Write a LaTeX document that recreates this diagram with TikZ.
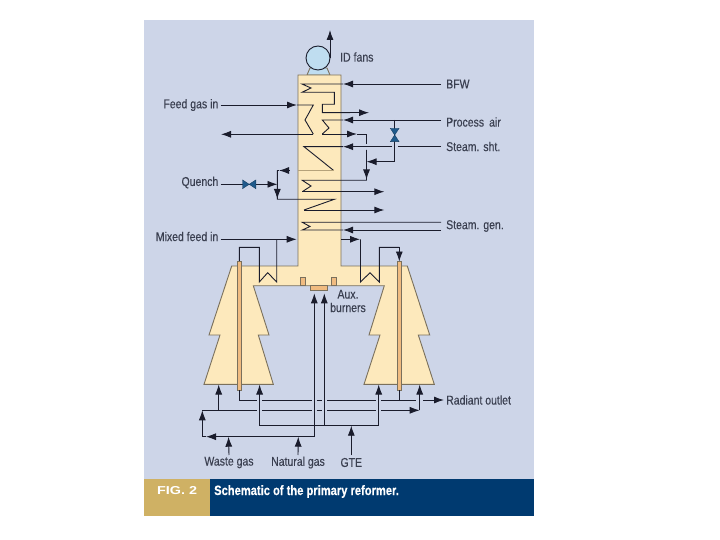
\documentclass[tikz,border=0pt]{standalone}
\usepackage{fontspec}
\setmainfont{Liberation Sans}[FakeStretch=0.82, FakeBold=0.25]
\newfontfamily\figfont{Liberation Sans Bold}[FakeStretch=1.25]
\usetikzlibrary{arrows.meta, positioning, calc}
\definecolor{panel}{HTML}{CDD5E8}
\definecolor{cream}{HTML}{FDE9BC}
\definecolor{tubeor}{HTML}{F0BB80}
\definecolor{navy}{HTML}{003A70}
\definecolor{gold}{HTML}{CFB164}
\definecolor{valveblue}{HTML}{1F5A8C}
\definecolor{fanblue}{HTML}{BFDDF0}
\definecolor{wall}{HTML}{7A705C}
\definecolor{tan2}{HTML}{B5A27A}
\definecolor{pipecol}{HTML}{1A1C2C}
\definecolor{labelcol}{HTML}{3A3F50}

\begin{document}
\begin{tikzpicture}[
    x=1pt, y=-1pt,
    lbl/.style={font=\fontsize{12.8}{13.5}\selectfont, text=labelcol, inner sep=2pt, align=center},
    pipe/.style={draw=pipecol, line width=0.9pt},
    arr/.style={pipe, -{Latex[length=10pt, width=7pt]}},
    shell/.style={draw=wall, line width=0.9pt, fill=cream},
    tube/.style={draw=wall, line width=0.6pt, fill=tubeor},
    valve/.pic={\draw[draw=valveblue!70!black, fill=valveblue, line width=0.4pt] (-6.7,-4.4) -- (6.7,4.4) -- (6.7,-4.4) -- (-6.7,4.4) -- cycle;}
]
\useasboundingbox (0,0) rectangle (720,540);
\fill[panel] (144,20) rectangle (534,479);
\fill[navy] (210,479) rectangle (534,516);
\fill[gold] (144,479) rectangle (210,516);
\node[font=\fontsize{11.5}{13}\selectfont\figfont, text=white, anchor=west, inner sep=0pt] (figno) at (157,491) {FIG. 2};
\node[font=\fontsize{13.6}{13}\selectfont\bfseries, text=white, anchor=west, inner sep=0pt] (caption) at (214,491.5) {Schematic of the primary reformer.};

% fan on top of the stack
\draw[shell, fill=fanblue] (307,75) -- (310,68) -- (327,68) -- (330,75) -- cycle;
\draw[shell, fill=fanblue, draw=pipecol] (318,58) circle (12);
\coordinate (fanout) at (330,58);
\coordinate (fantop) at (330,30);
\draw[arr] (fanout) -- (fantop);

% reformer body
\draw[shell] (298,75) -- (341,75) -- (341,266) -- (407.3,266) -- (429.7,335) -- (418.3,335) -- (434.3,384.3)
    -- (364,384.3) -- (380,335) -- (369,335) -- (384.3,285.7) -- (253.3,285.7) -- (269,335) -- (258.3,335)
    -- (273.3,384.3) -- (204,384.3) -- (220,335) -- (209,335) -- (231.7,266) -- (298,266) -- cycle;

% labels
\node[lbl, anchor=west] (idfans) at (338,57) {ID fans};
\node[lbl, anchor=west] (bfw) at (444,84) {BFW};
\node[lbl, anchor=east] (feed) at (220.5,105) {Feed gas in};
\node[lbl, anchor=west] (air) at (444,122) {Process\, air};
\node[lbl, anchor=west] (sht) at (444,146.5) {Steam. sht.};
\node[lbl, anchor=east] (quench) at (220.5,182.5) {Quench};
\node[lbl, anchor=west] (gen) at (444,226) {Steam. gen.};
\node[lbl, anchor=east] (mixed) at (220.5,236.5) {Mixed feed in};
\node[lbl, anchor=west] (radiant) at (444,400) {Radiant outlet};
\node[lbl] (aux) at (348,301) {Aux.\\burners};
\node[lbl] (waste) at (229,462.5) {Waste gas};
\node[lbl] (natural) at (298,462.5) {Natural gas};
\node[lbl] (gte) at (351.3,462.5) {GTE};

% convection coils, top to bottom
\coordinate (bfwin) at (343,84);
\draw[arr] (441,84) -- (bfwin);
\draw[pipe] (bfwin) -- (302,84) -- (311,88) -- (302,92.3) -- (334.3,92.3) -- (334.3,104.3) -- (322.3,104.3) -- (322.3,112.7) -- (350,112.7);
\draw[arr] (350,112.7) -- (369,112.7);

\coordinate (feedin) at (297,105);
\draw[arr] (feed.east |- feedin) -- (feedin);
\draw[pipe] (feedin) -- (313.3,105) -- (305,120) -- (313.3,134);
\coordinate (feedout) at (221,134.3);
\draw[arr] (313.3,134.3) -- (feedout);

\coordinate (airin) at (343,120);
\coordinate (airtee) at (394.7,120);
\draw[pipe] (441,120) -- (airtee);
\draw[arr] (airtee) -- (airin);
\draw[pipe] (airin) -- (322.3,120) -- (329,128) -- (322.3,134);
\coordinate (airup) at (366.5,134);
\draw[arr] (322.3,134) -- (357,134);
\draw[pipe] (357,134) -- (airup) -- (366.5,144.5);

\coordinate (shtin) at (343,146.7);
\draw[pipe] (441,146.7) -- (397.5,146.7);
\draw[arr] (392,146.7) -- (shtin);
\draw[pipe] (shtin) -- (304,146.7) -- (333.7,170.5);
\draw[tan2, line width=0.7pt] (333.7,170.5) -- (298,170.5);
\draw[arr] (289,170.5) -- (279,170.5);

% bypass with the valve
\coordinate (valvea) at (394.7,135);
\draw[pipe] (airtee) -- (valvea) -- (394.7,161.7) -- (380,161.7);
\draw[arr] (380,161.7) -- (366.5,161.7);
\pic[rotate=90] at (valvea) {valve};
\draw[pipe] (366.5,150) -- (366.5,180.3) -- (302.3,180.3) -- (311,186) -- (302.3,191.7);
\draw[arr] (366.5,160) -- (366.5,179.5);
\draw[arr] (302.3,191.7) -- (384.3,191.7);

% quench
\coordinate (quenchv) at (249.2,184.3);
\coordinate (quenchj) at (277.5,184.3);
\draw[pipe] (quench.east |- quenchv) -- (quenchv);
\draw[arr] (quenchv) -- (quenchj);
\pic at (quenchv) {valve};
\draw[pipe] (277.3,170.5) -- (277.3,199.3) -- (334.3,199.3) -- (304,210);
\draw[arr] (277.3,180) -- (277.3,199);
\draw[pipe] (277.3,170.5) -- (279,170.5);
\draw[arr] (304,210) -- (384.3,210);

% steam generation coil
\draw[pipe] (441,222.3) -- (302.3,222.3) -- (310,226.5) -- (302.3,230) -- (343,230);
\coordinate (genin) at (343,230);
\draw[arr] (441,230) -- (genin);

% mixed feed and the two arms of the furnace
\coordinate (mixedin) at (296.7,239.3);
\draw[arr] (mixed.east |- mixedin) -- (mixedin);
\draw[pipe] (276.7,239.3) -- (276.7,282) -- (267.7,272.7) -- (259.3,282) -- (259.3,247.3) -- (239.3,247.3) -- (239.3,262);
\coordinate (rightout) at (360.5,239.3);
\draw[arr] (341.3,239.3) -- (360,239.3);
\draw[pipe] (rightout) -- (360.5,282) -- (370,272.7) -- (379.3,282) -- (379.3,247.3) -- (399.3,247.3);
\coordinate (righttube) at (399.3,261.5);
\draw[arr] (399.3,247.3) -- (righttube);

% catalyst tubes and burners
\draw[tube] (237.3,261.3) rectangle (241,390);
\draw[tube] (397.3,261.3) rectangle (401.3,390);
\draw[tube] (300.3,277.3) rectangle (305.7,285.7);
\draw[tube] (331.3,277.3) rectangle (336.7,285.7);
\draw[tube] (310.3,285.7) rectangle (327,290.7);

% headers below the furnace
\draw[pipe] (239.3,390) -- (239.3,400) -- (257,400) (262.3,400) -- (312,400) (316.7,400) -- (322,400) (327,400) -- (376,400) (381.3,400) -- (416,400);
\draw[pipe] (399.3,390) -- (399.3,400);
\draw[arr] (423.3,400) -- (radiant.west);

\coordinate (hdr) at (202.3,410.3);
\draw[pipe] (hdr) -- (257,410.3) (262.3,410.3) -- (312,410.3) (316.7,410.3) -- (322,410.3) (327,410.3) -- (376,410.3);
\draw[arr] (381.3,410.3) -- (419.7,410.3);
\draw[arr] (419.7,410.3) -- (419.7,384.5);
\draw[arr] (218.7,410.3) -- (218.7,384.5);
\coordinate (wasteh) at (228.5,436.7);
\coordinate (naturalh) at (298.3,436.7);
\coordinate (gteh) at (351.3,425.7);
\draw[arr] (216,436.7) -- (206,436.7);
\draw[pipe] (206,436.7) -- (202.3,436.7);
\draw[arr] (202.3,436.7) -- (hdr);
\draw[pipe] (214,436.7) -- (314.3,436.7);
\draw[arr] (314.3,436.7) -- (314.3,293.3);
\draw[arr] (259.6,425.7) -- (259.6,384.5);
\draw[arr] (378.7,425.7) -- (378.7,384.5);
\draw[pipe] (259.6,425.7) -- (378.7,425.7);
\draw[arr] (324.3,425.7) -- (324.3,293.3);
\draw[arr] (waste.north |- 0,455) -- (wasteh);
\draw[arr] (natural.north |- 0,455) -- (naturalh);
\draw[arr] (gte.north |- 0,455) -- (gteh);
\end{tikzpicture}
\end{document}
